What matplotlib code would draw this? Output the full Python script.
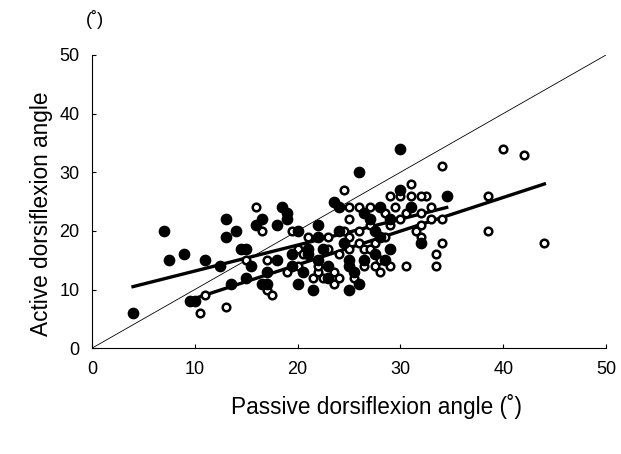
import matplotlib.pyplot as plt

plt.rcParams['font.family'] = ['Liberation Sans', 'DejaVu Sans']

# filled circles
solid_x = [4, 7, 7.5, 9, 9.5, 10, 11, 12.5, 13, 13, 14, 13.5, 14.5, 15, 15, 15.5, 16, 16.5,
           16.5, 17, 17, 18, 18.5, 19, 19, 19.5, 19.5, 20, 20, 20.5, 21, 21, 21.5, 22, 22,
           22.5, 23, 23, 23.5, 24, 24, 24.5, 25, 25, 25.5, 25, 26, 26, 26.5, 26.5, 27, 27.5,
           27.5, 28, 28.5, 29, 29, 30, 30, 31, 32, 34.5, 28, 22, 18]
solid_y = [6, 20, 15, 16, 8, 8, 15, 14, 22, 19, 20, 11, 17, 17, 12, 14, 21, 22,
           11, 13, 11, 15, 24, 23, 22, 16, 14, 11, 20, 13, 17, 16, 10, 21, 15,
           17, 14, 12, 25, 24, 20, 18, 15, 14, 13, 10, 11, 30, 15, 23, 22, 20,
           16, 19, 15, 22, 17, 34, 27, 24, 18, 26, 24, 19, 21]

# open circles
open_x = [10.5, 11, 13, 15, 16, 16.5, 17, 17.5, 17, 19, 19.5, 20, 20, 20.5, 21, 21.5, 22, 22,
          22.5, 23, 23, 23.5, 23.5, 24, 24.5, 24.5, 25, 25, 25, 25.5, 26, 26, 26, 26.5, 27, 27,
          27.5, 27.5, 28, 28, 28.5, 28.5, 29, 29, 29.5, 30, 30, 30.5, 30.5, 31, 31, 31.5, 32, 32,
          32, 32.5, 33, 33, 33.5, 34, 34, 33.5, 34, 38.5, 38.5, 40, 42, 44, 27, 26.5, 29, 24,
          32, 18, 25]
open_y = [6, 9, 7, 15, 24, 20, 10, 9, 15, 13, 20, 17, 14, 16, 19, 12, 13, 14,
          12, 17, 19, 13, 11, 16, 20, 27, 24, 22, 17, 12, 24, 20, 18, 17, 24, 21,
          18, 14, 13, 15, 23, 19, 21, 26, 24, 26, 22, 23, 14, 28, 26, 20, 19, 21,
          23, 26, 24, 22, 16, 31, 22, 14, 18, 26, 20, 34, 33, 18, 17, 14, 14, 12,
          26, 15, 19]

# regression lines (end points)
fit_solid_x = [4, 34.5]
fit_solid_y = [10.5, 24]
fit_open_x = [9.5, 44]
fit_open_y = [8.2, 28]

fig = plt.figure(figsize=(6.21, 4.54), dpi=100)
ax = fig.add_axes([0.148, 0.233, 0.828, 0.646])

ax.plot([0, 50], [0, 50], color='black', lw=0.6)
ax.plot(fit_solid_x, fit_solid_y, color='black', lw=2.4)
ax.plot(fit_open_x, fit_open_y, color='black', lw=2.4)

ax.scatter(open_x, open_y, s=30, facecolors='white', edgecolors='black', linewidths=1.8, zorder=3)
ax.scatter(solid_x, solid_y, s=55, color='black', zorder=4)

ax.set_xlim(0, 50)
ax.set_ylim(0, 50)
ax.set_xticks(range(0, 51, 10))
ax.set_yticks(range(0, 51, 10))
ax.spines['top'].set_visible(False)
ax.spines['right'].set_visible(False)
for s in ['left', 'bottom']:
    ax.spines[s].set_linewidth(0.8)
ax.tick_params(direction='in', length=3, labelsize=13, pad=9)

ax.set_xlabel("Passive dorsiflexion angle (˚)", fontsize=16.3, labelpad=10)
ax.xaxis.set_label_coords(0.553, -0.155)
ax.set_ylabel("Active dorsiflexion angle", fontsize=16.3)
ax.yaxis.set_label_coords(-0.075, 0.46)
ax.text(-0.6, 54.5, "(˚)", fontsize=13, ha='left', va='bottom')

fig.savefig("out.png", dpi=100)
